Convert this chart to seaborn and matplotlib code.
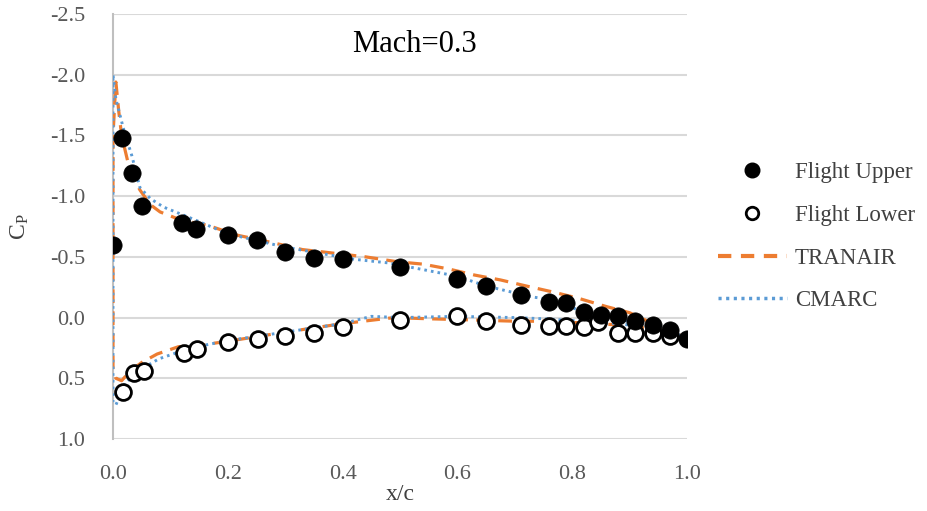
import numpy as np
import pandas as pd
import matplotlib
matplotlib.use("Agg")
import matplotlib.pyplot as plt
from matplotlib.lines import Line2D
import seaborn as sns

# ---- data ----
upper_x = [0.0, 0.016, 0.033, 0.05, 0.12, 0.145, 0.2, 0.25, 0.3, 0.35, 0.4, 0.5,
           0.6, 0.65, 0.71, 0.76, 0.79, 0.82, 0.85, 0.88, 0.91, 0.94, 0.97, 1.0]
upper_cp = [-0.6, -1.48, -1.19, -0.92, -0.78, -0.73, -0.68, -0.64, -0.54, -0.49, -0.48, -0.42,
            -0.32, -0.26, -0.19, -0.13, -0.12, -0.05, -0.02, -0.01, 0.03, 0.06, 0.10, 0.18]

lower_x = [0.018, 0.037, 0.054, 0.124, 0.147, 0.2, 0.252, 0.3, 0.35, 0.4, 0.5,
           0.6, 0.65, 0.71, 0.76, 0.79, 0.82, 0.845, 0.88, 0.91, 0.94, 0.97]
lower_cp = [0.61, 0.46, 0.44, 0.29, 0.26, 0.20, 0.18, 0.15, 0.13, 0.08, 0.02,
            -0.01, 0.03, 0.06, 0.07, 0.07, 0.08, 0.04, 0.13, 0.13, 0.13, 0.15]

tranair_x = [1.0, 0.97, 0.95, 0.9, 0.85, 0.8, 0.75, 0.7, 0.63, 0.55, 0.49, 0.4, 0.3,
             0.22, 0.15, 0.114, 0.077, 0.05, 0.03, 0.015, 0.005, 0.0,
             0.0, 0.005, 0.01, 0.015, 0.03, 0.047, 0.065, 0.082, 0.12, 0.165, 0.215,
             0.275, 0.33, 0.44, 0.495, 0.54, 0.585, 0.63, 0.675, 0.72, 0.767, 0.81,
             0.86, 0.9, 0.95, 1.0]
tranair_cp = [0.16, 0.12, 0.10, 0.07, 0.05, 0.04, 0.03, 0.03, 0.02, 0.01, 0.0, 0.05, 0.12,
              0.18, 0.23, 0.24, 0.30, 0.37, 0.44, 0.52, 0.5, 0.42,
              -1.5, -1.94, -1.7, -1.5, -1.2, -1.05, -0.93, -0.87, -0.8, -0.76, -0.68,
              -0.62, -0.56, -0.5, -0.46, -0.44, -0.40, -0.35, -0.31, -0.26, -0.21, -0.16,
              -0.09, -0.04, 0.07, 0.15]

cmarc_x = [1.0, 0.97, 0.93, 0.88, 0.82, 0.75, 0.7, 0.6, 0.5, 0.45, 0.4, 0.3, 0.2,
           0.135, 0.08, 0.04, 0.02, 0.005, 0.0,
           0.0, 0.005, 0.018, 0.033, 0.047, 0.065, 0.088, 0.135, 0.2, 0.3, 0.42,
           0.48, 0.6, 0.65, 0.73, 0.76, 0.83, 0.85, 0.91, 0.94, 0.98, 1.0]
cmarc_cp = [0.16, 0.12, 0.08, 0.05, 0.03, 0.01, 0.0, -0.01, 0.0, -0.01, 0.05, 0.12, 0.19,
            0.25, 0.34, 0.45, 0.55, 0.72, 0.7,
            -2.0, -1.8, -1.56, -1.33, -1.07, -0.98, -0.91, -0.82, -0.69, -0.58, -0.48,
            -0.45, -0.34, -0.26, -0.17, -0.15, -0.03, -0.01, 0.04, 0.08, 0.15, 0.17]

y_ticks = [-2.5, -2.0, -1.5, -1.0, -0.5, 0.0, 0.5, 1.0]
x_ticks = [0.0, 0.2, 0.4, 0.6, 0.8, 1.0]

sns.set_theme(style="white")
plt.rcParams["font.family"] = ["Liberation Serif", "DejaVu Serif"]
plt.rcParams["mathtext.fontset"] = "stix"

fig = plt.figure(figsize=(9.27, 5.11), dpi=100)
ax = fig.add_axes([113 / 927, 1 - 439 / 511, (687 - 113) / 927, (439 - 14) / 511])

orange = "#ED7D31"
blue = "#5B9BD5"

df_tr = pd.DataFrame({"x": tranair_x, "cp": tranair_cp})
df_cm = pd.DataFrame({"x": cmarc_x, "cp": cmarc_cp})
df_up = pd.DataFrame({"x": upper_x, "cp": upper_cp})
df_lo = pd.DataFrame({"x": lower_x, "cp": lower_cp})

sns.lineplot(data=df_tr, x="x", y="cp", sort=False, estimator=None, ax=ax,
             color=orange, lw=2.3, zorder=3)
ax.lines[-1].set_dashes((4.3, 2.6))
sns.lineplot(data=df_cm, x="x", y="cp", sort=False, estimator=None, ax=ax,
             color=blue, lw=2.1, zorder=4)
ax.lines[-1].set_dashes((0.9, 1.4))

sns.scatterplot(data=df_lo, x="x", y="cp", ax=ax, marker="o", s=130,
                facecolor="white", edgecolor="black", linewidth=2.0, zorder=5)
sns.scatterplot(data=df_up, x="x", y="cp", ax=ax, marker="o", s=155,
                color="black", edgecolor="black", linewidth=0.5, zorder=6)

ax.set_xlim(0, 1.0)
ax.set_ylim(1.0, -2.5)
ax.set_xticks(x_ticks)
ax.set_yticks(y_ticks)
ax.set_xticklabels([f"{v:.1f}" for v in x_ticks])
ax.set_yticklabels([f"{v:.1f}" for v in y_ticks])
ax.tick_params(axis="both", length=0, labelsize=16, labelcolor="#595959")
ax.tick_params(axis="y", pad=20)
ax.tick_params(axis="x", pad=19)
ax.grid(axis="y", color="#D9D9D9", lw=1.5)
ax.grid(axis="x", visible=False)
for s in ["top", "right", "bottom"]:
    ax.spines[s].set_visible(False)
ax.spines["left"].set_color("#BFBFBF")
ax.spines["left"].set_linewidth(1.5)
ax.set_axisbelow(True)

ax.set_xlabel("x/c", fontsize=17, color="#404040", labelpad=0)
ax.set_ylabel("C$_\\mathregular{P}$", fontsize=17, color="#404040", labelpad=14)

ax.text(0.526, -2.25, "Mach=0.3", fontsize=22, ha="center", va="center", color="black")

handles = [
    Line2D([], [], ls="none", marker="o", ms=10.5, mfc="black", mec="black"),
    Line2D([], [], ls="none", marker="o", ms=9, mfc="white", mec="black", mew=2),
    Line2D([], [], color=orange, lw=3, dashes=(3.2, 2.3)),
    Line2D([], [], color=blue, lw=2.5, dashes=(0.9, 1.3)),
]
labels = ["Flight Upper", "Flight Lower", "TRANAIR", "CMARC"]
fig.legend(handles, labels, loc="upper left", bbox_to_anchor=(718 / 927, 1 - 162 / 511),
           frameon=False, fontsize=16.5, handlelength=3.0, handletextpad=0.35,
           labelspacing=0.95, borderpad=0, borderaxespad=0, labelcolor="#404040")

fig.savefig("out.png", dpi=100)
